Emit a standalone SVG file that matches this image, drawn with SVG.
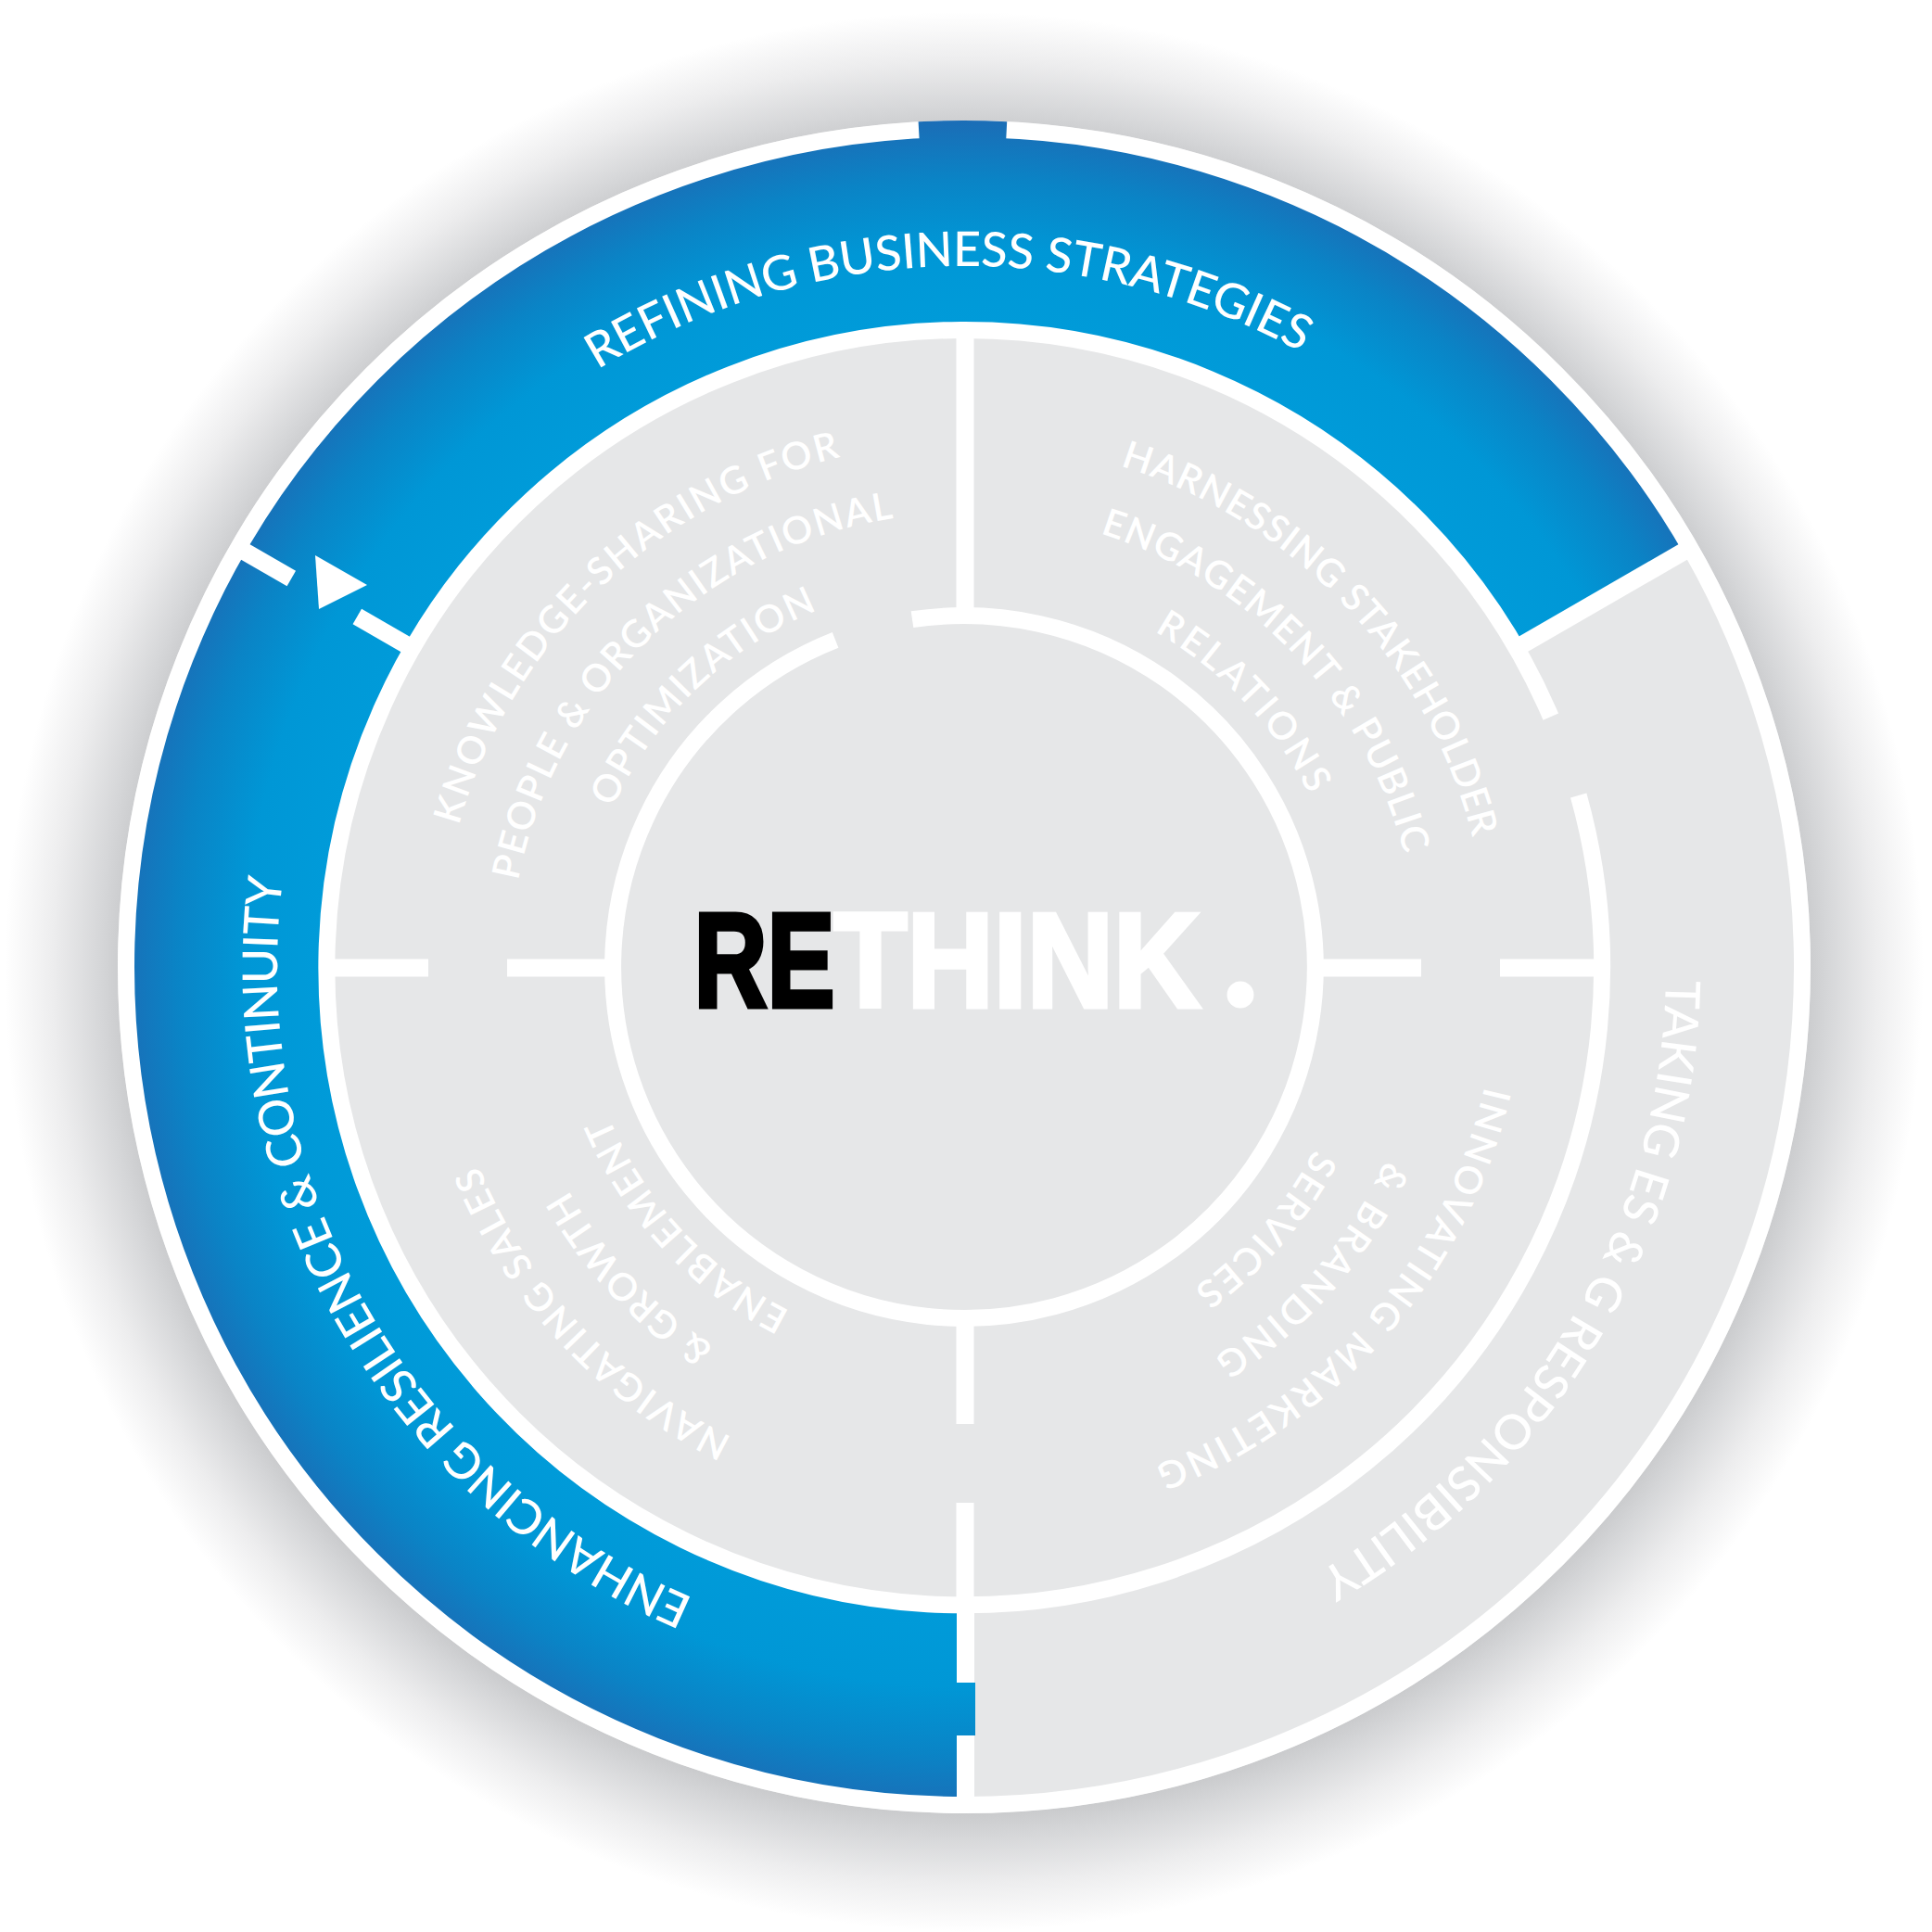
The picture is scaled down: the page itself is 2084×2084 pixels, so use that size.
<svg xmlns="http://www.w3.org/2000/svg" width="2084" height="2084" viewBox="0 0 2084 2084">
<defs>
  <radialGradient id="shadow" cx="1040" cy="1048" r="1035" gradientUnits="userSpaceOnUse">
    <stop offset="0.87" stop-color="#c6c7c9"/>
    <stop offset="0.9" stop-color="#d5d6d8"/>
    <stop offset="0.95" stop-color="#ededee"/>
    <stop offset="1" stop-color="#ffffff"/>
  </radialGradient>
  <radialGradient id="blue" cx="1040" cy="1043" r="913" gradientUnits="userSpaceOnUse">
    <stop offset="0.76" stop-color="#009bd9"/>
    <stop offset="0.85" stop-color="#0097d6"/>
    <stop offset="0.93" stop-color="#0a84c6"/>
    <stop offset="1" stop-color="#1b6db6"/>
  </radialGradient>
  <path id="pTop" d="M 376.3 681.1 A 756 756 0 0 1 1685.3 649.1"/>
  <path id="pLeft" d="M 1036.1 1784.0 A 741 741 0 0 1 400.2 669.1"/>
  <path id="pRight" d="M 1698.2 669.1 A 757 757 0 0 1 1034.7 1800.0"/>
  <path id="tl1" d="M 481.0 1131.5 A 566 566 0 0 1 1148.0 487.4"/>
  <path id="tl2" d="M 556.0 1119.7 A 490 490 0 0 1 1133.5 562.0"/>
  <path id="tl3" d="M 629.1 1108.1 A 416 416 0 0 1 1119.4 634.6"/>
  <path id="tr1" d="M 956.3 483.2 A 566 566 0 0 1 1594.6 1155.8"/>
  <path id="tr2" d="M 967.6 558.4 A 490 490 0 0 1 1520.2 1140.7"/>
  <path id="tr3" d="M 978.5 631.6 A 416 416 0 0 1 1447.6 1125.9"/>
  <path id="br1" d="M 1598.9 903.7 A 576 576 0 0 1 979.8 1615.8"/>
  <path id="br2" d="M 1525.2 922.0 A 500 500 0 0 1 987.7 1540.3"/>
  <path id="br3" d="M 1453.3 939.9 A 426 426 0 0 1 995.5 1466.7"/>
  <path id="bl1" d="M 1118.8 1603.5 A 566 566 0 0 1 486.4 925.3"/>
  <path id="bl2" d="M 1108.2 1528.2 A 490 490 0 0 1 560.7 941.1"/>
  <path id="bl3" d="M 1097.9 1455.0 A 416 416 0 0 1 633.1 956.5"/>
</defs>
<style>
  .ring{fill:none;stroke:#ffffff;stroke-width:18}
  .bar{stroke:#ffffff;stroke-width:19;stroke-linecap:butt;fill:none}
  .band{font-family:Lato,"Noto Sans",sans-serif;font-size:52px;font-weight:500;fill:#ffffff}
  .inner{font-family:Lato,"Noto Sans",sans-serif;font-size:41px;font-weight:600;fill:#ffffff}
  .logo{font-family:"Liberation Sans",Arial,sans-serif;font-weight:700;font-size:145px;stroke-width:5;stroke-linejoin:miter}
</style>
<rect width="2084" height="2084" fill="#ffffff"/>
<circle cx="1040" cy="1048" r="1035" fill="url(#shadow)"/>
<circle id="base" cx="1040" cy="1043" r="913" fill="#e6e7e8"/>

<g id="segment-left">
  <path d="M 1040 1947 A 904 904 0 0 1 273.4 564.0 L 456.5 678.4 A 688 688 0 0 0 1040 1731 Z" fill="url(#blue)"/>
  <text class="band"><textPath href="#pLeft" startOffset="50%" text-anchor="middle" textLength="960">ENHANCING RESILIENCE &amp; CONTINUITY</textPath></text>
</g>
<g id="segment-top">
  <path d="M 257.1 591.0 A 904 904 0 0 1 1822.9 591.0 L 1635.8 699.0 A 688 688 0 0 0 444.2 699.0 Z" fill="url(#blue)"/>
  <text class="band"><textPath href="#pTop" startOffset="50%" text-anchor="middle" textLength="795">REFINING BUSINESS STRATEGIES</textPath></text>
</g>
<g id="segment-right">
  <text class="band"><textPath href="#pRight" startOffset="50%" text-anchor="middle" textLength="775">TAKING ES &amp; G RESPONSIBILITY</textPath></text>
</g>

<g id="connectors">
  <circle class="ring" cx="1040" cy="1043" r="904"/>
  <path d="M 990.6 131.3 A 912 912 0 0 1 1086.2 131.2 L 1085.2 151.1 A 893 893 0 0 0 991.7 151.3 Z" fill="url(#blue)"/>
  <path class="ring" d="M 1702.7 858.0 A 688 688 0 0 1 393.5 1278.3 A 688 688 0 0 1 1672.8 773.1"/>
  <path class="ring" d="M 984.0 668.2 A 379 379 0 0 1 1138.1 1409.1 A 379 379 0 0 1 901.1 690.4"/>
  <line class="bar" x1="1041" y1="352" x2="1041" y2="668"/>
  <line class="bar" x1="1041" y1="1420" x2="1041" y2="1536"/>
  <line class="bar" x1="1041" y1="1621" x2="1041" y2="1733"/>
  <line class="bar" x1="350" y1="1044" x2="462" y2="1044"/>
  <line class="bar" x1="547" y1="1044" x2="663" y2="1044"/>
  <line class="bar" x1="1417" y1="1044" x2="1533" y2="1044"/>
  <line class="bar" x1="1618" y1="1044" x2="1730" y2="1044"/>
  <line class="bar" x1="257.1" y1="591.0" x2="314.3" y2="624.0"/>
  <line class="bar" x1="385.3" y1="665.0" x2="444.2" y2="699.0"/>
  <polygon points="340,599 344,657 396,631" fill="#ffffff"/>
  <line class="bar" x1="1635.8" y1="699.0" x2="1822.9" y2="591.0"/>
  <line class="bar" x1="1041.5" y1="1729" x2="1041.5" y2="1815"/>
  <line class="bar" x1="1041.5" y1="1872" x2="1041.5" y2="1940"/>
  <rect x="1031" y="1815" width="21" height="57" fill="url(#blue)"/>
</g>

<g id="quadrant-top-left">
  <text class="inner"><textPath href="#tl1" startOffset="50%" text-anchor="middle" textLength="600">KNOWLEDGE-SHARING FOR</textPath></text>
  <text class="inner"><textPath href="#tl2" startOffset="50%" text-anchor="middle" textLength="600">PEOPLE &amp; ORGANIZATIONAL</textPath></text>
  <text class="inner"><textPath href="#tl3" startOffset="50%" text-anchor="middle" textLength="314">OPTIMIZATION</textPath></text>
</g>
<g id="quadrant-top-right">
  <text class="inner"><textPath href="#tr1" startOffset="50%" text-anchor="middle" textLength="577">HARNESSING STAKEHOLDER</textPath></text>
  <text class="inner"><textPath href="#tr2" startOffset="50%" text-anchor="middle" textLength="498">ENGAGEMENT &amp; PUBLIC</textPath></text>
  <text class="inner"><textPath href="#tr3" startOffset="50%" text-anchor="middle" textLength="246">RELATIONS</textPath></text>
</g>
<g id="quadrant-bottom-right">
  <text class="inner"><textPath href="#br1" startOffset="50%" text-anchor="middle" textLength="564">INNOVATING MARKETING</textPath></text>
  <text class="inner"><textPath href="#br2" startOffset="50%" text-anchor="middle" textLength="286">&amp; BRANDING</textPath></text>
  <text class="inner"><textPath href="#br3" startOffset="50%" text-anchor="middle" textLength="201">SERVICES</textPath></text>
</g>
<g id="quadrant-bottom-left">
  <text class="inner"><textPath href="#bl1" startOffset="50%" text-anchor="middle" textLength="410">NAVIGATING SALES</textPath></text>
  <text class="inner"><textPath href="#bl2" startOffset="50%" text-anchor="middle" textLength="233">&amp; GROWTH</textPath></text>
  <text class="inner"><textPath href="#bl3" startOffset="50%" text-anchor="middle" textLength="293">ENABLEMENT</textPath></text>
</g>

<g id="center">
  <text class="logo" x="748.5" y="1086" textLength="152" lengthAdjust="spacingAndGlyphs" fill="#000000" stroke="#000000">RE</text>
  <text class="logo" x="899.5" y="1086" textLength="395" lengthAdjust="spacingAndGlyphs" fill="#ffffff" stroke="#ffffff">THINK</text>
  <circle cx="1338" cy="1073" r="14.5" fill="#ffffff"/>
</g>
</svg>
